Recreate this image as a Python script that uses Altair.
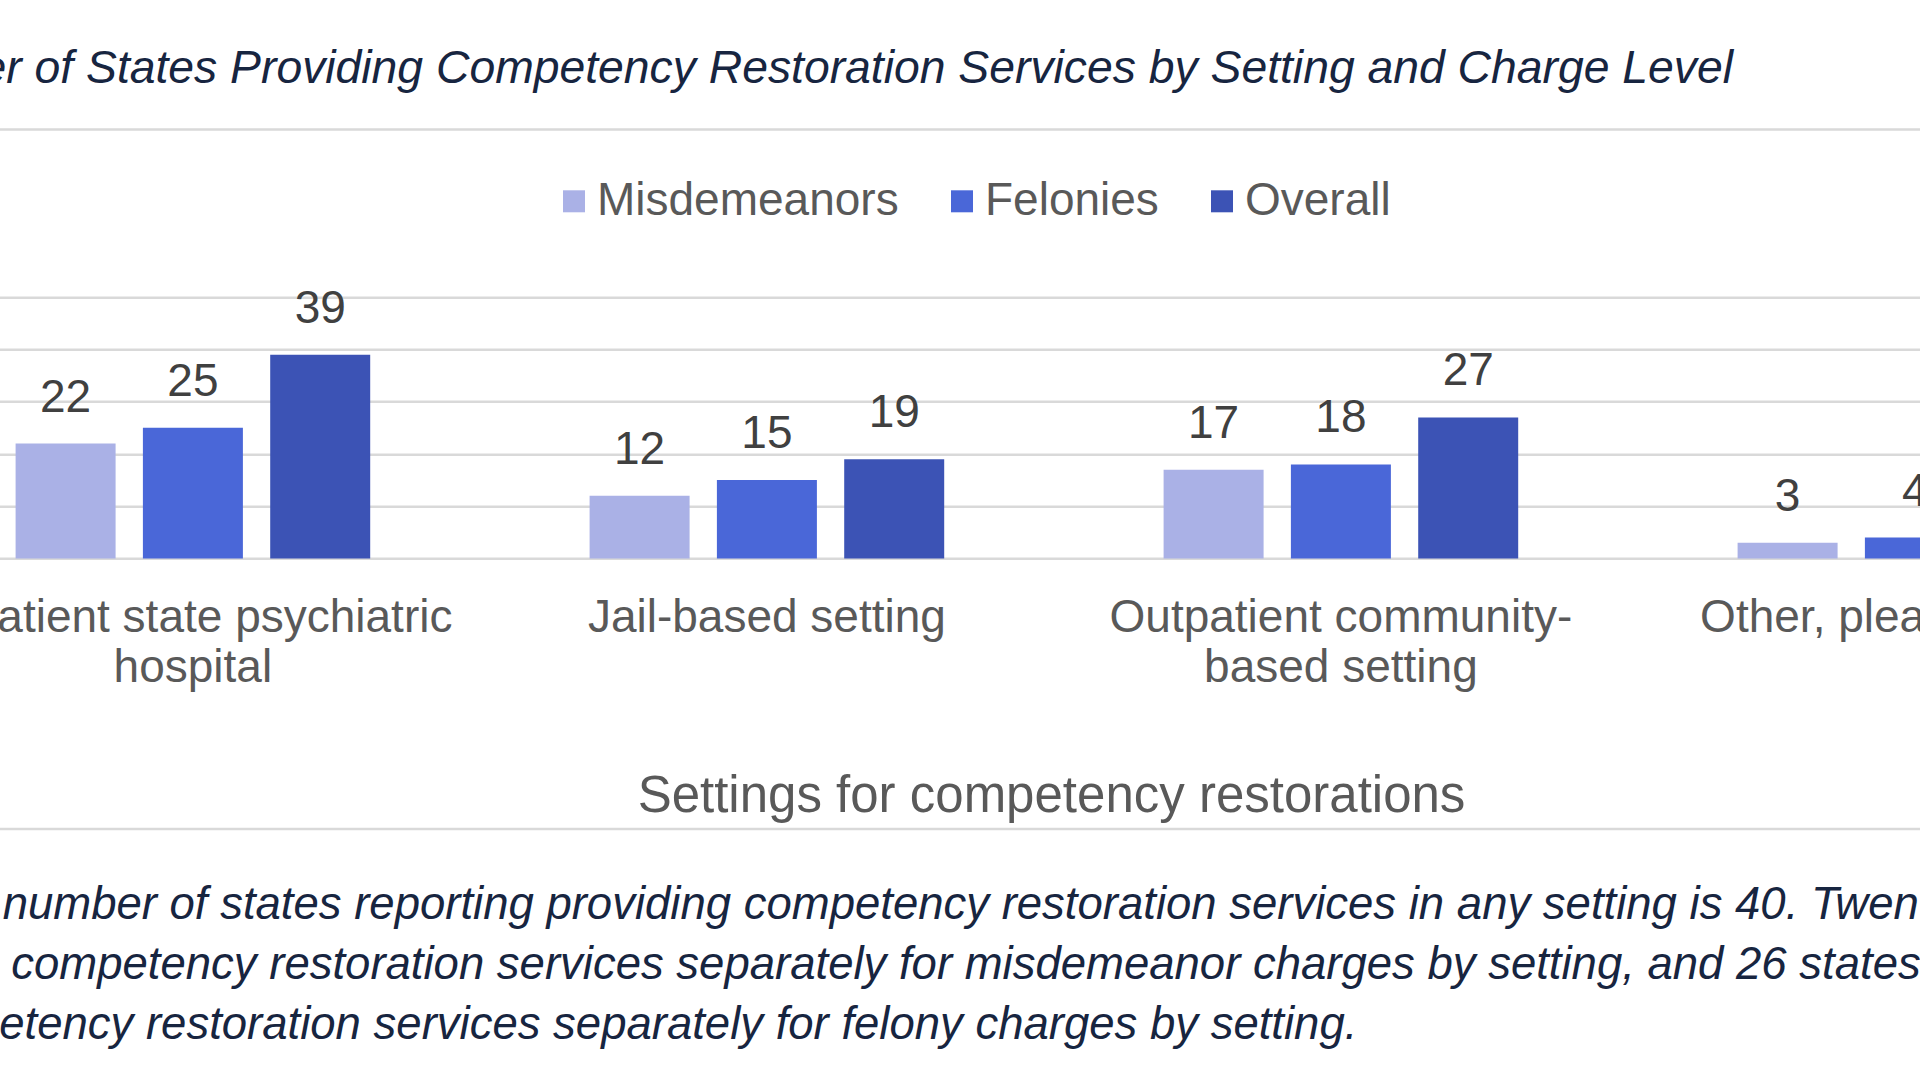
import altair as alt
import pandas as pd

# Settings where restoration services are provided, and the count of states per charge level
SETTINGS = [
    "Inpatient state psychiatric hospital",
    "Jail-based setting",
    "Outpatient community-based setting",
    "Other, please specify",
]
SETTING_LINES = [
    ["Inpatient state psychiatric", "hospital"],
    ["Jail-based setting"],
    ["Outpatient community-", "based setting"],
    ["Other, please specify"],
]
SERIES = ["Misdemeanors", "Felonies", "Overall"]
MISDEMEANORS = [22, 12, 17, 3]
FELONIES = [25, 15, 18, 4]
OVERALL = [39, 19, 27, 5]
COLORS = ["#aab1e6", "#4a67d8", "#3c53b5"]
GRID_VALUES = [0, 10, 20, 30, 40, 50]

TITLE = "Number of States Providing Competency Restoration Services by Setting and Charge Level"
X_TITLE = "Settings for competency restorations"
NOTE_LINES = [
    "total number of states reporting providing competency restoration services in any setting is 40. Twenty",
    "providing competency restoration services separately for misdemeanor charges by setting, and 26 states reported",
    "competency restoration services separately for felony charges by setting.",
]

FONT = "Liberation Sans"
NAVY = "#172540"
GREY = "#595959"
GRID = "#d9d9d9"

rows = []
for series, values in zip(SERIES, [MISDEMEANORS, FELONIES, OVERALL]):
    for setting, v in zip(SETTINGS, values):
        rows.append({"setting": setting, "series": series, "value": v})
df = pd.DataFrame(rows)

# wrapped category labels for the x axis
label_expr = " : ".join(
    f"datum.label == '{s}' ? {lines!r}" for s, lines in zip(SETTINGS, SETTING_LINES)
) + " : datum.label"

PLOT_TOP = 297.3
PLOT_H = 261.1

x_enc = alt.X(
    "setting:N",
    sort=SETTINGS,
    scale=alt.Scale(domain=SETTINGS, range=[-94.1, 2201.9], paddingInner=0, paddingOuter=0),
    axis=alt.Axis(
        title=X_TITLE,
        labelExpr=label_expr,
        labelFont=FONT,
        labelFontSize=46,
        labelColor=GREY,
        labelPadding=73,
        labelBaseline="alphabetic",
        labelLineHeight=50,
        labelAngle=0,
        labelLimit=2000,
        labelOverlap=False,
        ticks=False,
        tickSize=0,
        domain=False,
        titleFont=FONT,
        titleFontSize=51,
        titleFontWeight="normal",
        titleColor=GREY,
        titleX=1051,
        titleY=252.6,
        titleBaseline="alphabetic",
    ),
)
xoff_enc = alt.XOffset(
    "series:N",
    sort=SERIES,
    scale=alt.Scale(domain=SERIES, paddingInner=0.2145, paddingOuter=0.8617),
)
y_enc = alt.Y(
    "value:Q",
    scale=alt.Scale(domain=[0, 50], nice=False),
    axis=alt.Axis(
        values=GRID_VALUES,
        grid=True,
        gridColor=GRID,
        gridWidth=2.5,
        labels=False,
        ticks=False,
        domain=False,
        title=None,
    ),
)

base = alt.Chart(df)

bars = base.mark_bar().encode(
    x=x_enc,
    xOffset=xoff_enc,
    y=y_enc,
    color=alt.Color(
        "series:N",
        sort=SERIES,
        scale=alt.Scale(domain=SERIES, range=COLORS),
        legend=alt.Legend(
            title=None,
            orient="none",
            legendX=551,
            legendY=-119,
            direction="horizontal",
            symbolType="square",
            symbolSize=484,
            symbolStrokeWidth=0,
            labelFont=FONT,
            labelFontSize=46,
            labelColor=GREY,
            labelLimit=1000,
            labelOffset=0,
            columnPadding=40,
            padding=0,
        ),
    ),
)

values = base.mark_text(
    font=FONT, fontSize=46, color="#404040", baseline="alphabetic", dy=-32
).encode(x=x_enc, xOffset=xoff_enc, y=y_enc, text="value:Q")

title = alt.Chart(pd.DataFrame({"t": [TITLE]})).mark_text(
    font=FONT, fontSize=46.3, fontStyle="italic", color=NAVY, align="right", baseline="alphabetic"
).encode(text="t:N", x=alt.value(1733), y=alt.value(83 - PLOT_TOP))

one = pd.DataFrame({"k": [0]})
rule_top = alt.Chart(one).mark_rule(color=GRID, strokeWidth=2.5).encode(
    x=alt.value(0), x2=alt.value(1920), y=alt.value(129.5 - PLOT_TOP)
)
rule_bottom = alt.Chart(one).mark_rule(color=GRID, strokeWidth=2.5).encode(
    x=alt.value(0), x2=alt.value(1920), y=alt.value(829 - PLOT_TOP)
)

note_x = [-96, -186, -112]
note_y = [919.2, 979.2, 1039.2]
notes = [
    alt.Chart(pd.DataFrame({"t": [line]})).mark_text(
        font=FONT, fontSize=45.5, fontStyle="italic", color=NAVY, align="left", baseline="alphabetic"
    ).encode(text="t:N", x=alt.value(nx), y=alt.value(ny - PLOT_TOP))
    for line, nx, ny in zip(NOTE_LINES, note_x, note_y)
]

chart = alt.layer(bars, values, title, rule_top, rule_bottom, *notes).properties(
    width=1920,
    height=PLOT_H,
    autosize=alt.AutoSizeParams(type="none"),
    padding={"left": 0, "right": 0, "top": PLOT_TOP, "bottom": 1080 - PLOT_TOP - PLOT_H},
    background="white",
).configure_view(strokeWidth=0)

chart.save("out.html", embed_options={"renderer": "svg", "actions": False})
